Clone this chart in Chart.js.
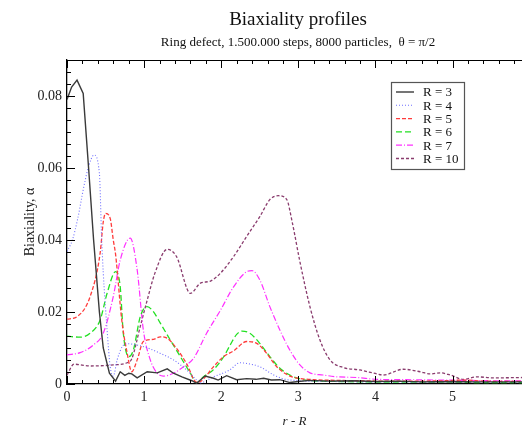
<!DOCTYPE html>
<html>
<head>
<meta charset="utf-8">
<script src="https://cdn.jsdelivr.net/npm/chart.js@4.4.1/dist/chart.umd.min.js"></script>
<style>
  html, body { margin: 0; padding: 0; background: #fff; }
  #wrap { width: 522px; height: 426px; }
</style>
</head>
<body>
<div id="wrap"><canvas id="chart" width="522" height="426"></canvas></div>
<script>
// ── Data ──────────────────────────────────────────────────────
const LABELS = ['R = 3', 'R = 4', 'R = 5', 'R = 6', 'R = 7', 'R = 10'];

const r3X = [0, 0.06, 0.13, 0.21, 0.28, 0.345, 0.42, 0.47, 0.55, 0.63, 0.69, 0.75, 0.80, 0.84, 0.91, 1.04, 1.17, 1.30, 1.38, 1.49, 1.62, 1.68, 1.79, 1.90, 1.96, 2.07, 2.20, 2.33, 2.45, 2.55, 2.65, 2.76, 2.89, 3.0, 3.15, 3.4, 3.7, 4.0, 4.3, 4.6, 5.0, 5.3, 5.6, 5.9];
const r3Y = [0.079, 0.0825, 0.0844, 0.0807, 0.060, 0.040, 0.020, 0.010, 0.003, 0.0008, 0.0034, 0.0024, 0.0030, 0.0028, 0.0017, 0.0034, 0.0031, 0.0042, 0.0030, 0.0020, 0.0009, 0.0002, 0.0022, 0.0016, 0.0011, 0.0023, 0.0012, 0.0015, 0.0013, 0.0016, 0.0011, 0.0012, 0.0004, 0.0007, 0.0010, 0.0008, 0.0009, 0.0007, 0.0008, 0.0006, 0.0007, 0.0006, 0.0006, 0.0006];

const r4X = [0, 0.07, 0.14, 0.22, 0.28, 0.35, 0.42, 0.45, 0.47, 0.52, 0.56, 0.60, 0.65, 0.72, 0.78, 0.91, 1.06, 1.21, 1.38, 1.55, 1.68, 1.72, 1.90, 2.11, 2.24, 2.33, 2.50, 2.68, 2.81, 2.95, 3.1, 3.4, 3.8, 4.2, 4.6, 5.0, 5.4, 5.9];
const r4Y = [0.0368, 0.040, 0.046, 0.055, 0.0604, 0.0636, 0.0585, 0.040, 0.031, 0.015, 0.0048, 0.0022, 0.0067, 0.0105, 0.0112, 0.0108, 0.0099, 0.0085, 0.0067, 0.0039, 0.0011, 0.0003, 0.0020, 0.0039, 0.0059, 0.0057, 0.0048, 0.0025, 0.0014, 0.0010, 0.0008, 0.0007, 0.0006, 0.0006, 0.0005, 0.0006, 0.0005, 0.0005];

const r5X = [0, 0.13, 0.30, 0.43, 0.47, 0.50, 0.56, 0.60, 0.63, 0.71, 0.78, 0.84, 0.91, 0.99, 1.12, 1.21, 1.30, 1.42, 1.55, 1.68, 1.73, 1.90, 2.03, 2.16, 2.33, 2.46, 2.59, 2.72, 2.89, 3.0, 3.2, 3.5, 3.8, 4.1, 4.5, 4.9, 5.16, 5.4, 5.9];
const r5Y = [0.018, 0.0187, 0.0243, 0.0364, 0.045, 0.0474, 0.046, 0.040, 0.036, 0.0178, 0.0086, 0.0034, 0.0067, 0.0118, 0.0124, 0.0131, 0.0127, 0.0099, 0.0057, 0.0005, 0.0007, 0.0048, 0.0076, 0.0092, 0.0118, 0.0113, 0.0085, 0.0048, 0.0022, 0.0016, 0.0012, 0.0010, 0.0009, 0.0008, 0.0008, 0.0009, 0.0011, 0.0008, 0.0007];

const r6X = [0, 0.17, 0.30, 0.43, 0.52, 0.63, 0.69, 0.73, 0.80, 0.86, 0.95, 1.04, 1.12, 1.21, 1.34, 1.47, 1.60, 1.68, 1.77, 1.90, 2.03, 2.12, 2.20, 2.27, 2.37, 2.50, 2.63, 2.76, 2.89, 3.04, 3.2, 3.5, 3.8, 4.2, 4.6, 5.0, 5.4, 5.9];
const r6Y = [0.0133, 0.013, 0.0141, 0.0178, 0.0252, 0.0312, 0.027, 0.0141, 0.0076, 0.0094, 0.0187, 0.0215, 0.0201, 0.0169, 0.0122, 0.0076, 0.003, 0.0004, 0.002, 0.004, 0.0075, 0.011, 0.0138, 0.0147, 0.0141, 0.0113, 0.0076, 0.0044, 0.0025, 0.0013, 0.0009, 0.0007, 0.0006, 0.0005, 0.0005, 0.0005, 0.0004, 0.0004];

const r7X = [0, 0.17, 0.34, 0.47, 0.60, 0.69, 0.82, 0.91, 0.99, 1.08, 1.17, 1.25, 1.38, 1.51, 1.64, 1.81, 1.99, 2.16, 2.33, 2.40, 2.50, 2.63, 2.76, 2.89, 3.02, 3.15, 3.32, 3.50, 3.76, 4.02, 4.4, 4.8, 5.2, 5.6, 5.9];
const r7Y = [0.0081, 0.0087, 0.0108, 0.0141, 0.0243, 0.0344, 0.0405, 0.0317, 0.015, 0.0067, 0.003, 0.0022, 0.003, 0.0048, 0.0071, 0.0141, 0.0205, 0.027, 0.0312, 0.0315, 0.0289, 0.0215, 0.015, 0.0094, 0.0053, 0.0031, 0.0025, 0.002, 0.0018, 0.0013, 0.0012, 0.0011, 0.0010, 0.0009, 0.0009];

const r10X = [0, 0.09, 0.30, 0.60, 0.78, 0.84, 0.95, 1.04, 1.14, 1.30, 1.42, 1.60, 1.73, 1.86, 1.99, 2.16, 2.33, 2.50, 2.63, 2.74, 2.85, 2.92, 3.02, 3.15, 3.28, 3.41, 3.58, 3.80, 4.02, 4.10, 4.36, 4.58, 4.71, 4.84, 4.97, 5.14, 5.31, 5.53, 5.9];
const r10Y = [0.0025, 0.0055, 0.005, 0.0053, 0.0059, 0.0070, 0.016, 0.0233, 0.0308, 0.0374, 0.0354, 0.0252, 0.028, 0.0286, 0.0308, 0.0354, 0.041, 0.0465, 0.0512, 0.0523, 0.0512, 0.045, 0.0340, 0.0215, 0.0122, 0.0067, 0.0046, 0.0039, 0.0028, 0.0025, 0.0041, 0.0034, 0.0028, 0.0031, 0.0025, 0.0013, 0.002, 0.0017, 0.0018];

const X_TICKS = [0, 1, 2, 3, 4, 5];
const Y_TICKS = [0, 0.02, 0.04, 0.06, 0.08];

const TITLE    = 'Biaxiality profiles';
const SUBTITLE = 'Ring defect, 1.500.000 steps, 8000 particles,  \u03b8 = \u03c0/2';

// ── Styles ───────────────────────────────────────────────────
const SERIES = [
  { x: r3X,  y: r3Y,  color: '#3a3a3a', dash: [],           width: 1.4, tension: 0 },
  { x: r4X,  y: r4Y,  color: '#6f6fff', dash: [1, 2],       width: 1.1, tension: 0.3 },
  { x: r5X,  y: r5Y,  color: '#ff3b3b', dash: [4, 2],       width: 1.3, tension: 0.3 },
  { x: r6X,  y: r6Y,  color: '#22e022', dash: [6, 3],       width: 1.3, tension: 0.3 },
  { x: r7X,  y: r7Y,  color: '#ff30ff', dash: [6, 2, 1, 2], width: 1.2, tension: 0.3 },
  { x: r10X, y: r10Y, color: '#8a3c6e', dash: [3, 2],       width: 1.3, tension: 0.3 },
];

const SERIF = '"Liberation Serif", "DejaVu Serif", serif';

// ── Decorations: top spine, inside ticks, titles, legend ─────
const decor = {
  id: 'decor',
  afterDraw(chart) {
    const { ctx, chartArea: a, scales } = chart;
    const xs = scales.x, ys = scales.y;
    ctx.save();
    ctx.strokeStyle = '#000';
    ctx.lineWidth = 1.2;

    // top spine
    ctx.beginPath();
    ctx.moveTo(a.left, a.top + 0.5);
    ctx.lineTo(a.right, a.top + 0.5);
    ctx.stroke();

    // x ticks (bottom + top), minor every 0.2
    ctx.lineWidth = 1;
    ctx.beginPath();
    for (let i = 0; i <= 29; i++) {
      const v = i * 0.2;
      if (v > xs.max) break;
      const px = Math.round(xs.getPixelForValue(v)) + 0.5;
      const len = i % 5 === 0 ? 8 : 4;
      ctx.moveTo(px, a.bottom); ctx.lineTo(px, a.bottom - len);
      ctx.moveTo(px, a.top);    ctx.lineTo(px, a.top + len);
    }
    // y ticks, minor every 0.02/6
    for (let i = 0; i <= 27; i++) {
      const v = i * 0.02 / 6;
      if (v > ys.max) break;
      const py = Math.round(ys.getPixelForValue(v)) + 0.5;
      const len = i % 6 === 0 ? 8 : 4;
      ctx.moveTo(a.left, py); ctx.lineTo(a.left + len, py);
    }
    ctx.stroke();

    // titles
    ctx.fillStyle = '#111';
    ctx.textAlign = 'center';
    ctx.textBaseline = 'middle';
    ctx.font = '19px ' + SERIF;
    ctx.fillText(TITLE, 298, 20);
    ctx.font = '13px ' + SERIF;
    ctx.fillText(SUBTITLE, 298, 43);

    // legend
    const bx = 391, by = 82, bw = 73, bh = 87;
    ctx.fillStyle = '#fff';
    ctx.fillRect(bx, by, bw, bh);
    ctx.strokeStyle = '#555';
    ctx.lineWidth = 1.2;
    ctx.strokeRect(bx + 0.5, by + 0.5, bw, bh);
    ctx.font = '13px ' + SERIF;
    ctx.textAlign = 'left';
    chart.data.datasets.forEach((ds, i) => {
      const yy = by + 10 + i * 13.3;
      ctx.strokeStyle = ds.borderColor;
      ctx.lineWidth = ds.borderWidth;
      ctx.setLineDash(ds.borderDash);
      ctx.beginPath();
      ctx.moveTo(bx + 5, yy); ctx.lineTo(bx + 23, yy);
      ctx.stroke();
      ctx.setLineDash([]);
      ctx.fillStyle = '#111';
      ctx.fillText(ds.label, bx + 32, yy + 1);
    });
    ctx.restore();
  },
};

new Chart(document.getElementById('chart').getContext('2d'), {
  type: 'line',
  data: {
    datasets: SERIES.map((s, i) => ({
      label: LABELS[i],
      data: s.x.map((x, k) => ({ x, y: s.y[k] })),
      borderColor: s.color,
      borderDash: s.dash,
      borderWidth: s.width,
      tension: s.tension,
      cubicInterpolationMode: s.tension ? 'monotone' : 'default',
      pointRadius: 0,
      fill: false,
    })),
  },
  options: {
    responsive: false,
    animation: false,
    devicePixelRatio: 1,
    layout: { padding: { top: 60, right: 0, bottom: 0, left: 0 } },
    plugins: { legend: { display: false }, tooltip: { enabled: false } },
    scales: {
      x: {
        type: 'linear',
        min: 0, max: 5.9,
        afterFit: (s) => { s.height = 42; },
        afterBuildTicks: (s) => { s.ticks = X_TICKS.map(v => ({ value: v })); },
        grid: { display: false, drawTicks: false },
        border: { display: true, color: '#000', width: 1.3 },
        ticks: {
          padding: 5,
          color: '#222',
          font: { family: SERIF, size: 14 },
          callback: v => String(v),
        },
        title: {
          display: true,
          text: 'r - R',
          color: '#222',
          padding: { top: 0, bottom: 0 },
          font: { family: SERIF, size: 13, style: 'italic', lineHeight: 0.7 },
        },
      },
      y: {
        type: 'linear',
        min: 0, max: 0.09,
        afterFit: (s) => { s.width = 67; },
        afterBuildTicks: (s) => { s.ticks = Y_TICKS.map(v => ({ value: v })); },
        grid: { display: false, drawTicks: false },
        border: { display: true, color: '#000', width: 1.3 },
        ticks: {
          padding: 5,
          color: '#222',
          font: { family: SERIF, size: 14 },
          callback: v => (v === 0 ? '0' : v.toFixed(2)),
        },
        title: {
          display: true,
          text: 'Biaxiality, \u03b1',
          color: '#222',
          padding: { top: 22, bottom: 0 },
          font: { family: SERIF, size: 14 },
        },
      },
    },
  },
  plugins: [decor],
});
</script>
</body>
</html>
